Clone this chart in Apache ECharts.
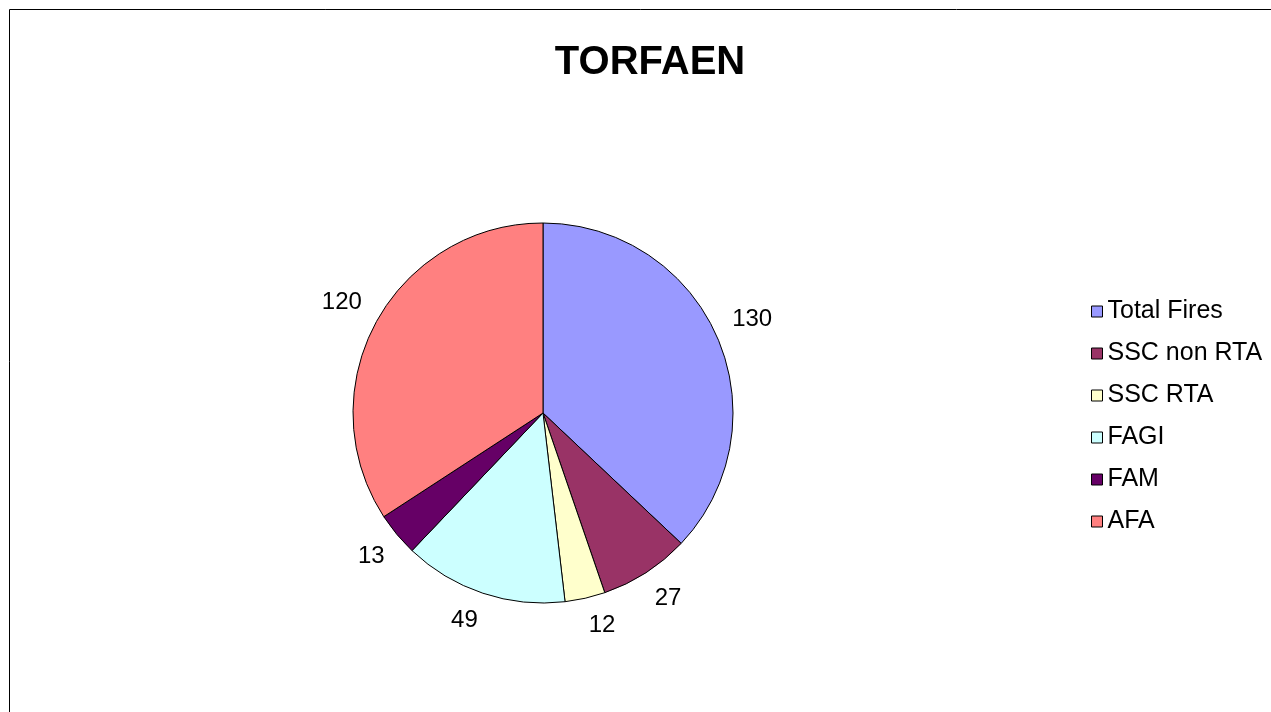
<!DOCTYPE html>
<html><head><meta charset="utf-8">
<script src="https://cdn.jsdelivr.net/npm/echarts@6/dist/echarts.min.js"></script>
<style>html,body{margin:0;padding:0;background:#fff}#c{width:1271px;height:712px}</style>
</head><body><div id="c"></div>
<script>
const categories = ['Total Fires', 'SSC non RTA', 'SSC RTA', 'FAGI', 'FAM', 'AFA'];
const values = [130, 27, 12, 49, 13, 120];
const colors = ['#9999FF', '#993366', '#FFFFCC', '#CCFFFF', '#660066', '#FF8080'];

const FONT = 'Liberation Sans, Arial, sans-serif';
const CENTER = [543, 413];
const chart = echarts.init(document.getElementById('c'));
chart.setOption({
  animation: false,
  textStyle: { fontFamily: FONT },
  graphic: [{
    type: 'rect', shape: { x: 9.5, y: 9.5, width: 1400, height: 900 },
    style: { fill: 'none', stroke: '#000', lineWidth: 1 }, silent: true
  }],
  title: {
    text: 'TORFAEN', left: 645, textAlign: 'center', top: 38,
    textStyle: { fontSize: 40, fontWeight: 'bold', color: '#000', fontFamily: FONT }
  },
  legend: {
    orient: 'vertical', left: 1091, top: 299, padding: 0,
    itemWidth: 11, itemHeight: 11, itemGap: 17,
    icon: 'rect',
    textStyle: { fontSize: 25, lineHeight: 25, color: '#000', fontFamily: FONT },
    itemStyle: { borderColor: '#000', borderWidth: 1 },
    data: categories
  },
  series: [{
    type: 'pie', center: CENTER, radius: 190, startAngle: 90, clockwise: true,
    avoidLabelOverlap: false,
    data: categories.map((n, i) => ({ name: n, value: values[i], itemStyle: { color: colors[i] } })),
    itemStyle: { borderColor: '#000', borderWidth: 1 },
    label: { show: true, position: 'outside', formatter: '{c}', fontSize: 24, color: '#000', fontFamily: FONT },
    labelLine: { show: false, length: 16, length2: -5 },
    labelLayout: function (p) {
      const cy = p.labelRect.y + p.labelRect.height / 2;
      return { verticalAlign: cy > CENTER[1] ? 'top' : 'bottom' };
    },
    emphasis: { disabled: true }
  }]
});
</script></body></html>
